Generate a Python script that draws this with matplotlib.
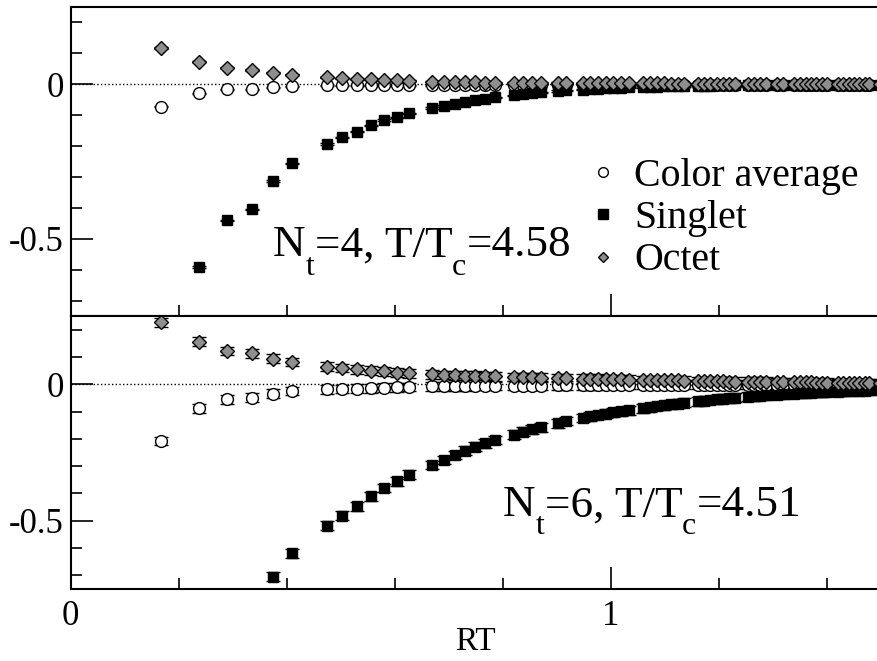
import numpy as np
import matplotlib
matplotlib.use('Agg')
import matplotlib.pyplot as plt
from matplotlib.lines import Line2D
from matplotlib.ticker import MultipleLocator, FuncFormatter
from matplotlib.transforms import offset_copy

plt.rcParams['font.family'] = ['Liberation Serif', 'DejaVu Serif']
plt.rcParams['axes.unicode_minus'] = False

nan = np.nan

# distances RT (same for both lattices)
rt = [0.168, 0.237, 0.290, 0.335, 0.375, 0.410, 0.474, 0.503, 0.530, 0.556, 0.580, 0.604, 0.627,
      0.670, 0.691, 0.711, 0.730, 0.749, 0.768, 0.786,
      0.821, 0.838, 0.854, 0.870,
      0.902, 0.917,
      0.948, 0.962, 0.977, 0.991, 1.005, 1.019, 1.033,
      1.059, 1.073, 1.086, 1.098, 1.111, 1.124, 1.136,
      1.161, 1.173, 1.184, 1.196, 1.208, 1.219, 1.231,
      1.254, 1.265, 1.276, 1.287,
      1.308, 1.319,
      1.340, 1.350, 1.361, 1.371, 1.381, 1.391, 1.401,
      1.421, 1.431, 1.441, 1.451, 1.460, 1.470, 1.479,
      1.498]

# N_t = 4, T/T_c = 4.58
cavg4 = [-0.072, -0.029, -0.016, -0.016, -0.010, -0.007, -0.004, -0.003, -0.003, -0.003, -0.003, -0.003, -0.003,
         -0.003, -0.002, -0.002, -0.002, -0.002, -0.002, -0.002,
         -0.002, -0.002, -0.002, -0.002,
         -0.002, -0.002,
         -0.001, -0.001, -0.001, -0.001, -0.001, -0.001, -0.001,
         -0.001, -0.001, -0.001, -0.001, -0.001, -0.001, -0.001,
         -0.001, -0.001, -0.001, -0.001, -0.001, -0.001, -0.001,
         -0.001, -0.001, -0.001, -0.001,
         -0.001, -0.001,
         -0.001, -0.001, -0.001, -0.001, -0.001, -0.001, -0.001,
         -0.001, -0.001, -0.001, -0.001, -0.001, -0.001, -0.001,
         -0.001]
sing4 = [nan, -0.591, -0.440, -0.405, -0.313, -0.256, -0.193, -0.172, -0.153, -0.133, -0.116, -0.107, -0.094,
         -0.077, -0.070, -0.064, -0.058, -0.052, -0.047, -0.042,
         -0.036, -0.032, -0.029, -0.026,
         -0.022, -0.020,
         -0.017, -0.015, -0.014, -0.013, -0.012, -0.011, -0.010,
         -0.009, -0.008, -0.008, -0.007, -0.007, -0.006, -0.006,
         -0.005, -0.005, -0.005, -0.004, -0.004, -0.004, -0.004,
         -0.003, -0.003, -0.003, -0.003,
         -0.003, -0.003,
         -0.002, -0.002, -0.002, -0.002, -0.002, -0.002, -0.002,
         -0.002, -0.002, -0.002, -0.001, -0.001, -0.001, -0.001,
         -0.001]
oct4 = [0.117, 0.073, 0.054, 0.046, 0.038, 0.031, 0.023, 0.019, 0.017, 0.016, 0.014, 0.013, 0.012,
        0.008, 0.007, 0.007, 0.006, 0.006, 0.005, 0.005,
        0.005, 0.004, 0.004, 0.004,
        0.004, 0.004,
        0.003, 0.003, 0.003, 0.003, 0.003, 0.003, 0.003,
        0.003, 0.003, 0.003, 0.003, 0.002, 0.002, 0.002,
        0.002, 0.002, 0.002, 0.002, 0.002, 0.002, 0.002,
        0.002, 0.002, 0.002, 0.002,
        0.002, 0.002,
        0.001, 0.001, 0.001, 0.001, 0.001, 0.001, 0.001,
        0.001, 0.001, 0.001, 0.001, 0.001, 0.001, 0.001,
        0.001]

# N_t = 6, T/T_c = 4.51
cavg6 = [-0.208, -0.088, -0.055, -0.049, -0.034, -0.025, -0.018, -0.017, -0.016, -0.015, -0.012, -0.011, -0.010,
         -0.008, -0.007, -0.007, -0.007, -0.006, -0.006, -0.006,
         -0.005, -0.005, -0.005, -0.005,
         -0.004, -0.004,
         -0.004, -0.004, -0.004, -0.003, -0.003, -0.003, -0.003,
         -0.003, -0.003, -0.003, -0.003, -0.003, -0.002, -0.002,
         -0.002, -0.002, -0.002, -0.002, -0.002, -0.002, -0.002,
         -0.002, -0.002, -0.002, -0.002,
         -0.001, -0.001,
         -0.001, -0.001, -0.001, -0.001, -0.001, -0.001, -0.001,
         -0.001, -0.001, -0.001, -0.001, -0.001, -0.001, -0.001,
         -0.001]
sing6 = [nan, nan, nan, nan, -0.705, -0.619, -0.518, -0.482, -0.447, -0.411, -0.380, -0.355, -0.331,
         -0.296, -0.277, -0.259, -0.243, -0.229, -0.216, -0.204,
         -0.185, -0.174, -0.165, -0.157,
         -0.143, -0.135,
         -0.124, -0.118, -0.113, -0.108, -0.103, -0.099, -0.095,
         -0.088, -0.084, -0.080, -0.077, -0.074, -0.071, -0.068,
         -0.063, -0.060, -0.058, -0.055, -0.053, -0.051, -0.049,
         -0.046, -0.044, -0.043, -0.041,
         -0.038, -0.037,
         -0.034, -0.033, -0.032, -0.031, -0.030, -0.029, -0.028,
         -0.027, -0.026, -0.025, -0.024, -0.024, -0.023, -0.022,
         -0.021]
oct6 = [0.227, 0.156, 0.122, 0.113, 0.094, 0.082, 0.065, 0.060, 0.055, 0.050, 0.047, 0.043, 0.040,
        0.036, 0.034, 0.033, 0.032, 0.031, 0.030, 0.029,
        0.027, 0.026, 0.025, 0.024,
        0.023, 0.022,
        0.021, 0.020, 0.020, 0.019, 0.018, 0.018, 0.017,
        0.016, 0.016, 0.015, 0.015, 0.014, 0.014, 0.013,
        0.012, 0.012, 0.011, 0.011, 0.011, 0.010, 0.010,
        0.009, 0.009, 0.009, 0.009,
        0.008, 0.008,
        0.007, 0.007, 0.007, 0.007, 0.006, 0.006, 0.006,
        0.005, 0.005, 0.005, 0.005, 0.004, 0.004, 0.004,
        0.004]

err4 = 0.002
err6 = 0.016

labels = ['Color average', 'Singlet', 'Octet']
octet_grey = '#8e8e8e'

fig = plt.figure(figsize=(8.78, 6.61), dpi=100)
ax1 = fig.add_axes([0.0805, 0.5219, 0.9226, 0.4675])
ax2 = fig.add_axes([0.0805, 0.1089, 0.9226, 0.4130])
renderer = fig.canvas.get_renderer()


def fmt(v, pos):
    return '0' if abs(v) < 1e-9 else '%g' % v


def panel(ax, cavg, sing, octet, err):
    ax.axhline(0, color='k', ls=':', lw=1, zorder=0)
    kw = dict(ls='none', ecolor='k', elinewidth=1, capsize=5, capthick=1, mec='k', mew=1)
    ax.errorbar(rt, cavg, yerr=err, fmt='o', ms=8.5, mfc='white', **kw)
    ax.errorbar(rt, sing, yerr=err, fmt='s', ms=7.5, mfc='black', **kw)
    ax.errorbar(rt, octet, yerr=err, fmt='D', ms=6.8, mfc=octet_grey, **kw)
    ax.set_xlim(0, 1.5)
    ax.set_ylim(-0.75, 0.25)
    ax.xaxis.set_major_locator(MultipleLocator(1))
    ax.xaxis.set_minor_locator(MultipleLocator(0.2))
    ax.yaxis.set_major_locator(MultipleLocator(0.5))
    ax.yaxis.set_minor_locator(MultipleLocator(0.1))
    ax.xaxis.set_major_formatter(FuncFormatter(fmt))
    ax.yaxis.set_major_formatter(FuncFormatter(fmt))
    ax.tick_params(which='both', direction='in', width=1.2, labelsize=25,
                   top=False, right=False)
    ax.tick_params(which='major', length=16)
    ax.tick_params(which='minor', length=8)
    ax.tick_params(axis='y', pad=5)
    ax.tick_params(axis='x', pad=8)
    for s in ax.spines.values():
        s.set_linewidth(1.5)


def label(ax, x, y, parts):
    # text with big, low subscripts, piece by piece
    dx = 0
    for s, size, dy in parts:
        tr = offset_copy(ax.transAxes, fig=fig, x=dx, y=dy, units='dots')
        t = ax.text(x, y, s, transform=tr, fontsize=size, ha='left', va='baseline')
        dx += t.get_window_extent(renderer).width


panel(ax1, cavg4, sing4, oct4, err4)
panel(ax2, cavg6, sing6, oct6, err6)

ax1.tick_params(axis='x', labelbottom=False)

ax2.set_xlabel('RT', fontsize=24, labelpad=-5)

label(ax1, 0.25, 0.194, [('N', 32.5, 0), ('t', 23, -19), ('=4, T/T', 32.5, 0),
                         ('c', 23, -19), ('=4.58', 32.5, 0)])
label(ax2, 0.534, 0.266, [('N', 32.5, 0), ('t', 23, -18), ('=6, T/T', 32.5, 0),
                          ('c', 23, -18), ('=4.51', 32.5, 0)])

handles = [Line2D([], [], ls='none', marker='o', ms=7, mfc='white', mec='k', mew=1),
           Line2D([], [], ls='none', marker='s', ms=6.5, mfc='black', mec='k', mew=1),
           Line2D([], [], ls='none', marker='D', ms=5, mfc=octet_grey, mec='k', mew=1)]
ax1.legend(handles, labels, loc='upper left', bbox_to_anchor=(0.632, 0.511), frameon=False,
           fontsize=28.7, handlelength=1, handletextpad=0.3, labelspacing=0.13,
           borderpad=0, borderaxespad=0)

fig.savefig('out.png', dpi=100)
